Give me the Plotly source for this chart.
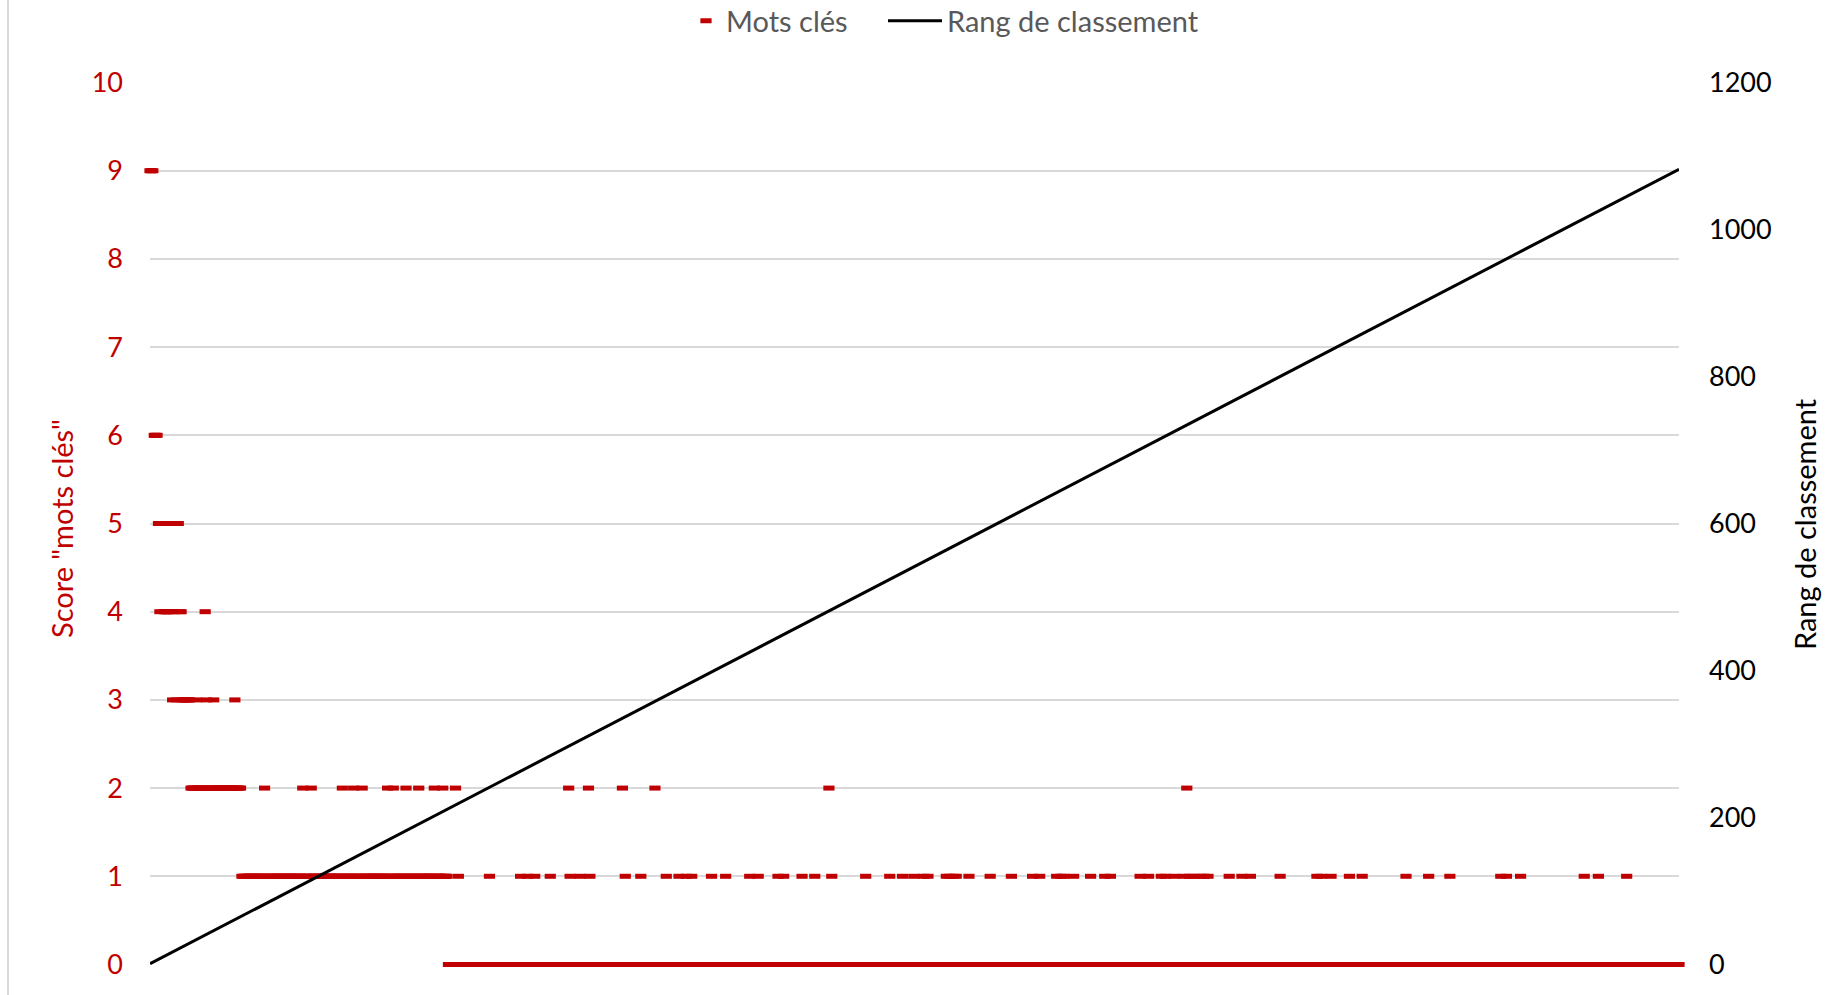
import plotly.graph_objects as go

# ---------------- Données ----------------
N_DOCS = 1082

# Scores "mots clés" des rangs 1 à 65 (lus rang par rang)
scores_rangs_1_a_65 = [
    9, 9, 9, 6, 6, 6, 5, 4, 5, 5,
    4, 4, 4, 4, 4, 5, 3, 4, 5, 3,
    5, 4, 4, 3, 3, 3, 3, 3, 3, 2,
    2, 2, 2, 3, 2, 2, 2, 2, 2, 4,
    3, 2, 2, 2, 2, 3, 2, 2, 2, 2,
    2, 2, 2, 2, 2, 2, 2, 2, 2, 2,
    3, 2, 2, 2, 2,
]

# Bloc continu de score 1 (rangs 66 à 211)
bloc_score_1_debut = 66
bloc_score_1_fin = 211

# Rangs isolés de score 2
rangs_score_2 = [82, 109, 115, 137, 145, 151, 169, 173, 182, 191, 202, 208,
                 217, 297, 311, 335, 358, 481, 734]

# Rangs isolés de score 1 (après le bloc)
rangs_score_1 = [219, 241, 263, 268, 273, 284, 298, 305, 312, 337, 348, 366,
                 375, 380, 384, 398, 408, 425, 431, 445, 449, 462, 471, 483,
                 507, 524, 533, 541, 548, 551, 564, 566, 569, 571, 580, 595,
                 610, 625, 630, 642, 645, 647, 654, 666, 676, 680, 701, 707,
                 716, 719, 725, 732, 736, 739, 744, 746, 749, 764, 773, 779,
                 800, 826, 829, 836, 849, 858, 889, 905, 920, 956, 960, 970,
                 1015, 1025, 1045]

# Rang de classement (droite)
rang_ligne_x = [1, 1082]
rang_ligne_y = [1, 1082]

# Axes
ticks_score = [0, 1, 2, 3, 4, 5, 6, 7, 8, 9, 10]
ticks_rang = [0, 200, 400, 600, 800, 1000, 1200]

# ---------------- Construction ----------------
scores = [0] * N_DOCS
for i, s in enumerate(scores_rangs_1_a_65):
    scores[i] = s
for r in range(bloc_score_1_debut, bloc_score_1_fin + 1):
    scores[r - 1] = 1
for r in rangs_score_2:
    scores[r - 1] = 2
for r in rangs_score_1:
    scores[r - 1] = 1
rangs = list(range(1, N_DOCS + 1))

ROUGE = "#C00000"
FONT = "Lato"
W, H = 1832, 995
L, R, T, B = 150, 1679, 82, 965
pw, ph = R - L, B - T
EPS = 0.006


def px_x(p):
    return (p - L) / pw


def px_y(p):
    return (B - p) / ph


fig = go.Figure()
fig.add_trace(go.Scatter(
    x=rangs, y=scores, mode="markers", name="Mots clés",
    marker=dict(symbol="line-ew", size=8, color=ROUGE,
                line=dict(color=ROUGE, width=5)),
    cliponaxis=False, legendwidth=176,
))
fig.add_trace(go.Scatter(
    x=rang_ligne_x, y=rang_ligne_y, mode="lines", name="Rang de classement",
    line=dict(color="black", width=3), yaxis="y2",
))

fig.update_layout(
    width=W, height=H,
    margin=dict(l=L, r=W - R, t=T, b=H - B, pad=0, autoexpand=False),
    paper_bgcolor="white", plot_bgcolor="white",
    font=dict(family=FONT, size=27),
    showlegend=True,
    legend=dict(orientation="h", x=px_x(686), xanchor="left",
                y=px_y(21), yanchor="middle",
                font=dict(family=FONT, size=29, color="#595959"),
                bgcolor="rgba(0,0,0,0)"),
    xaxis=dict(range=[1, N_DOCS], showticklabels=False, showgrid=False,
               zeroline=False, showline=False, ticks=""),
    yaxis=dict(range=[-EPS, 10 + EPS], tickvals=ticks_score, showgrid=True,
               gridcolor="#D9D9D9", gridwidth=2, zeroline=False,
               showline=False, ticks="", ticklabelstandoff=26,
               tickfont=dict(family=FONT, size=27, color=ROUGE)),
    yaxis2=dict(range=[-EPS * 120, 1200 + EPS * 120], tickvals=ticks_rang,
                overlaying="y", side="right", showgrid=False, zeroline=False,
                showline=False, ticks="", ticklabelstandoff=29,
                tickfont=dict(family=FONT, size=27, color="black")),
    annotations=[
        dict(text='Score "mots clés"', xref="paper", yref="paper",
             x=px_x(61), y=px_y(529), textangle=-90, showarrow=False,
             xanchor="center", yanchor="middle",
             font=dict(family=FONT, size=29, color=ROUGE)),
        dict(text="Rang de classement", xref="paper", yref="paper",
             x=px_x(1804), y=px_y(524), textangle=-90, showarrow=False,
             xanchor="center", yanchor="middle",
             font=dict(family=FONT, size=29, color="black")),
    ],
    shapes=[
        dict(type="line", xref="paper", yref="paper",
             x0=px_x(8), x1=px_x(8), y0=px_y(H), y1=px_y(0),
             line=dict(color="#D9D9D9", width=2)),
    ],
)

fig.write_html(
    "out.html",
    config={"displayModeBar": False},
    post_script="document.body.style.margin='0';document.body.style.padding='0';"
                "document.documentElement.style.overflow='hidden';"
                "document.querySelectorAll('.legendlines path').forEach("
                "function(p){p.setAttribute('d','M-19,0h54');});",
)
